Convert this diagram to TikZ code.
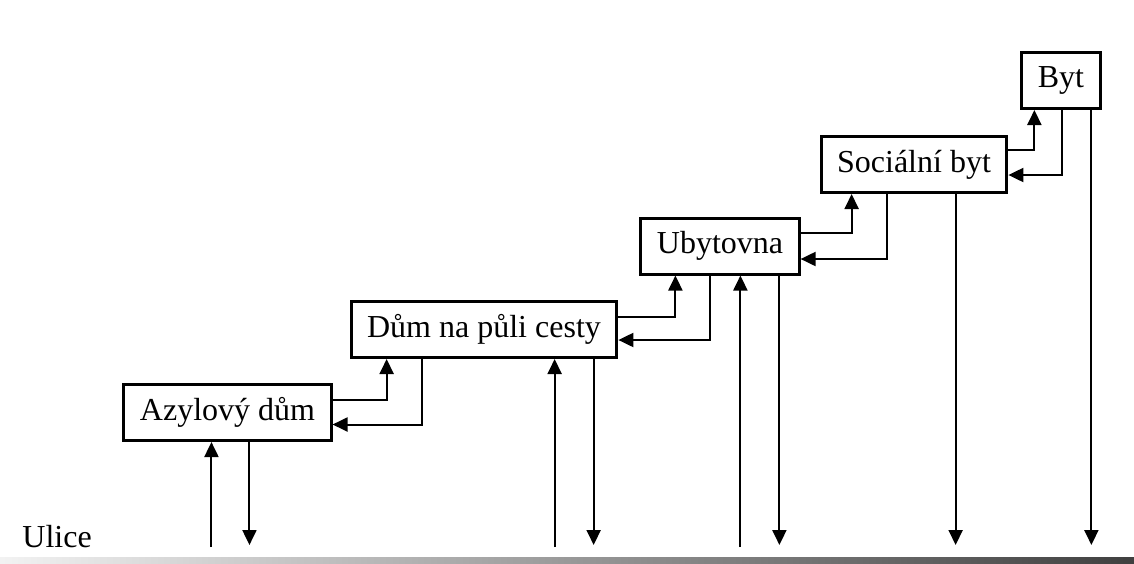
\documentclass[tikz,border=0pt]{standalone}
\usepackage{fontspec}
\setmainfont{Liberation Serif}
\usetikzlibrary{arrows.meta,calc}
\tikzset{
  stage/.style={draw, line width=1.5pt, inner xsep=8pt, inner ysep=0pt,
    minimum height=28pt, font=\fontsize{16}{19}\selectfont},
  flow/.style={line width=1pt, -{Triangle[length=7.5pt,width=7pt]}},
  edge/.style={line width=1pt}
}
\begin{document}
\begin{tikzpicture}[x=0.5pt, y=-0.5pt]
  \useasboundingbox (0,0) rectangle (1134,563);
  % page edge of the scan
  \shade[left color=gray!10, right color=black!75] (0,557) rectangle (1134,563);
  % the stages, one step up each
  \node[stage] (azyl) at (227.5,412.5) {Azylový dům};
  \node[stage] (dum)  at (484,329.5)   {Dům na půli cesty};
  \node[stage] (ubyt) at (720,246)     {Ubytovna};
  \node[stage] (soc)  at (914,164.5)   {Sociální byt};
  \node[stage] (byt)  at (1061,80.5)   {Byt};
  \node[anchor=base west, font=\fontsize{16}{19}\selectfont, inner sep=0pt]
    (ulice) at (22,547) {Ulice};
  \coordinate (street) at (0,547);
  % up and back between neighbours
  \draw[flow] ($(azyl.east)+(0,-13)$) -| ($(dum.south west)+(37,0)$);
  \draw[flow] ($(dum.south west)+(72,0)$) |- ($(azyl.east)+(0,12)$);
  \draw[flow] ($(dum.east)+(0,-12.5)$) -| ($(ubyt.south west)+(36,0)$);
  \draw[flow] ($(ubyt.south west)+(71,0)$) |- ($(dum.east)+(0,10.5)$);
  \draw[flow] ($(ubyt.east)+(0,-13)$) -| ($(soc.south west)+(32,0)$);
  \draw[flow] ($(soc.south west)+(67,0)$) |- ($(ubyt.east)+(0,13)$);
  \draw[flow] ($(soc.east)+(0,-14.5)$) -| ($(byt.south west)+(14,0)$);
  \draw[flow] ($(byt.south west)+(42,0)$) |- ($(soc.east)+(0,10.5)$);
  % from and to the street
  \foreach \n/\dx in {azyl/89, dum/205, ubyt/101}
    \draw[flow] (street -| {$(\n.south west)+(\dx,0)$}) -- ($(\n.south west)+(\dx,0)$);
  \foreach \n/\dx in {azyl/127, dum/244, ubyt/140, soc/136, byt/71}
    \draw[flow] ($(\n.south west)+(\dx,0)$) -- ($(street -| {$(\n.south west)+(\dx,0)$})+(0,-2)$);
\end{tikzpicture}
\end{document}
